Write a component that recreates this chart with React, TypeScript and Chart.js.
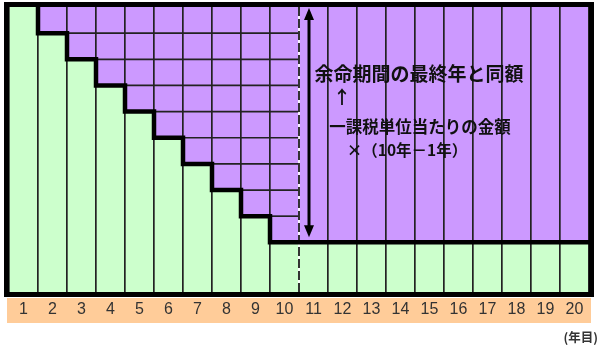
import React, { useEffect, useRef } from "react";
import { Chart, registerables } from "chart.js";

Chart.register(...registerables);

// ---- data ----
const years = ["1", "2", "3", "4", "5", "6", "7", "8", "9", "10", "11", "12", "13", "14", "15", "16", "17", "18", "19", "20"];
// green: amount per basic unit (lower part)
const baseAmount = [10.9, 9.9, 8.9, 7.9, 6.9, 5.9, 4.9, 3.9, 2.9, 1.9, 1.9, 1.9, 1.9, 1.9, 1.9, 1.9, 1.9, 1.9, 1.9, 1.9];
// purple: added amount (upper part)
const addedAmount = [0, 1, 2, 3, 4, 5, 6, 7, 8, 9, 9, 9, 9, 9, 9, 9, 9, 9, 9, 9];
// levels of the cell lines inside the purple staircase
const cellLevels = [2.9, 3.9, 4.9, 5.9, 6.9, 7.9, 8.9, 9.9];
const yMax = 10.9;
const lastStairIndex = 9; // column "10"
const axisUnit = "(年目)";
const noteLine1 = "余命期間の最終年と同額";
const noteArrow = "↑";
const noteLine2 = "一課税単位当たりの金額";
const noteLine3 = "×（10年－1年）";

const GREEN = "#CCFFCC";
const PURPLE = "#CC99FF";
const ORANGE = "#FFCC99";
const CJK = "'Noto Sans CJK JP', 'Noto Sans', sans-serif";

const overlayPlugin = {
  id: "overlay",
  beforeDraw(chart: any) {
    const { ctx, chartArea: a } = chart;
    const x = chart.scales.x;
    ctx.save();
    ctx.fillStyle = ORANGE;
    ctx.fillRect(a.left - 2, x.top + 6, a.right - a.left + 4, x.bottom - x.top - 6);
    ctx.restore();
  },
  afterDraw(chart: any) {
    const { ctx, chartArea: a } = chart;
    const y = chart.scales.y;
    const bars = chart.getDatasetMeta(0).data as any[];
    const half = (i: number) => bars[i].width / 2;
    const leftOf = (i: number) => bars[i].x - half(i);
    const rightOf = (i: number) => bars[i].x + half(i);

    ctx.save();
    // cell lines in the purple staircase
    ctx.strokeStyle = "#222";
    ctx.lineWidth = 1.7;
    const xEnd = rightOf(lastStairIndex);
    for (const lv of cellLevels) {
      let start = -1;
      for (let i = 0; i <= lastStairIndex; i++) {
        if (baseAmount[i] < lv - 1e-6) { start = i; break; }
      }
      if (start < 0) continue;
      const py = y.getPixelForValue(lv);
      ctx.beginPath();
      ctx.moveTo(leftOf(start), py);
      ctx.lineTo(xEnd, py);
      ctx.stroke();
    }

    // dashed separator after column 10
    const dx = rightOf(lastStairIndex);
    ctx.strokeStyle = "#ffffff";
    ctx.lineWidth = 1.7;
    ctx.beginPath();
    ctx.moveTo(dx, a.top);
    ctx.lineTo(dx, a.bottom);
    ctx.stroke();
    ctx.strokeStyle = "#111";
    ctx.setLineDash([9, 3]);
    ctx.beginPath();
    ctx.moveTo(dx, a.top);
    ctx.lineTo(dx, a.bottom);
    ctx.stroke();
    ctx.setLineDash([]);

    // staircase outline
    ctx.strokeStyle = "#000";
    ctx.lineWidth = 4.5;
    ctx.lineJoin = "miter";
    ctx.beginPath();
    ctx.moveTo(leftOf(1), a.top);
    for (let i = 1; i < bars.length; i++) {
      const py = y.getPixelForValue(baseAmount[i]);
      ctx.lineTo(leftOf(i), py);
      ctx.lineTo(i === bars.length - 1 ? a.right : rightOf(i), py);
    }
    ctx.stroke();

    // frame
    ctx.lineWidth = 5;
    ctx.strokeRect(a.left - 2.5, a.top - 2.5, a.right - a.left + 5, a.bottom - a.top + 5);

    // double arrow
    const ax = bars[10].x - 4.5;
    const aTop = y.getPixelForValue(yMax) + 1;
    const aBot = y.getPixelForValue(baseAmount[10]) - 5;
    const hh = 12, hw = 5;
    ctx.lineWidth = 3;
    ctx.beginPath();
    ctx.moveTo(ax, aTop + hh - 2);
    ctx.lineTo(ax, aBot - hh + 2);
    ctx.stroke();
    ctx.fillStyle = "#000";
    ctx.beginPath();
    ctx.moveTo(ax, aTop);
    ctx.lineTo(ax - hw, aTop + hh);
    ctx.lineTo(ax + hw, aTop + hh);
    ctx.closePath();
    ctx.fill();
    ctx.beginPath();
    ctx.moveTo(ax, aBot);
    ctx.lineTo(ax - hw, aBot - hh);
    ctx.lineTo(ax + hw, aBot - hh);
    ctx.closePath();
    ctx.fill();

    // notes
    ctx.fillStyle = "#111";
    ctx.textBaseline = "middle";
    ctx.textAlign = "center";
    ctx.font = `bold 19px ${CJK}`;
    ctx.fillText(noteLine1, a.left + 410, a.top + 67);
    ctx.font = `bold 18px ${CJK}`;
    ctx.fillText(noteArrow, a.left + 333, a.top + 90);
    ctx.font = `bold 16.5px ${CJK}`;
    ctx.fillText(noteLine2, a.left + 411, a.top + 120);
    ctx.font = `bold 15.5px ${CJK}`;
    ctx.fillText(noteLine3, a.left + 398, a.top + 143);

    // axis unit
    ctx.textAlign = "right";
    ctx.font = `bold 12.5px ${CJK}`;
    ctx.fillStyle = "#333";
    ctx.fillText(axisUnit, chart.width - 3, chart.scales.x.bottom + 14);
    ctx.restore();
  },
};

export default function App() {
  const ref = useRef<HTMLCanvasElement | null>(null);

  useEffect(() => {
    if (!ref.current) return;
    const chart = new Chart(ref.current, {
      type: "bar",
      data: {
        labels: years,
        datasets: [
          {
            label: "base",
            data: baseAmount,
            backgroundColor: GREEN,
            borderWidth: 0,
            categoryPercentage: 1,
            barPercentage: 1,
          },
          {
            label: "added",
            data: addedAmount,
            backgroundColor: PURPLE,
            borderWidth: 0,
            categoryPercentage: 1,
            barPercentage: 1,
          },
        ],
      },
      options: {
        responsive: false,
        animation: false,
        devicePixelRatio: 1,
        layout: { padding: { left: 9, top: 7, right: 12, bottom: 26 } },
        plugins: { legend: { display: false }, tooltip: { enabled: false } },
        scales: {
          x: {
            stacked: true,
            offset: true,
            afterFit: (s: any) => { s.height = 31; },
            border: { display: false },
            grid: {
              offset: true,
              z: 1,
              drawTicks: false,
              lineWidth: 1.7,
              color: (c: any) => (c.index === lastStairIndex + 1 ? "rgba(0,0,0,0)" : "#222"),
            },
            ticks: {
              padding: 8,
              color: "#333",
              font: { family: "'Liberation Sans Narrow', 'Liberation Sans', Arial, sans-serif", size: 16 },
              maxRotation: 0,
              autoSkip: false,
            },
          },
          y: {
            stacked: true,
            display: false,
            min: 0,
            max: yMax,
          },
        },
      },
      plugins: [overlayPlugin],
    });
    return () => chart.destroy();
  }, []);

  return (
    <div style={{ position: "absolute", left: 0, top: 0, width: 601, height: 349, background: "#fff" }}>
      <canvas ref={ref} width={601} height={349} style={{ display: "block" }} />
    </div>
  );
}
